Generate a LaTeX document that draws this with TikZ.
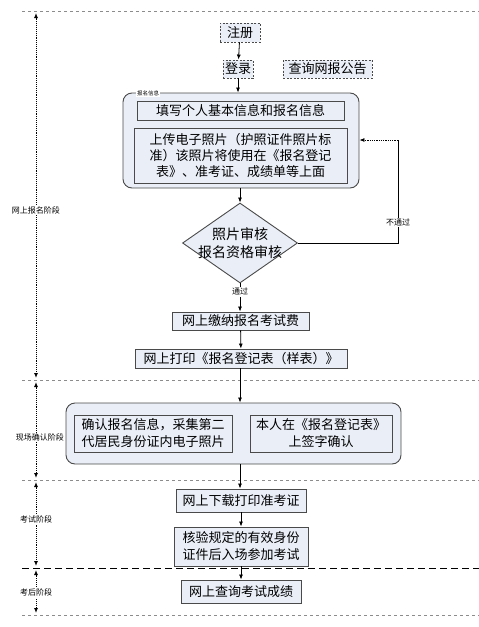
\documentclass[tikz,border=0pt]{standalone}
\usepackage{fontspec}
\setmainfont{Noto Sans CJK SC}
\usetikzlibrary{arrows.meta,shapes.geometric}
\definecolor{boxfill}{HTML}{E9EEF7}
\definecolor{boxline}{HTML}{4A4A4A}
\definecolor{sepline}{HTML}{8C8C8C}

\begin{document}
\begin{tikzpicture}[x=1pt,y=-1pt,
  box/.style={draw=boxline,fill=boxfill,line width=0.9pt,inner sep=0pt,
    align=center,font=\fontsize{13}{16}\selectfont},
  dbox/.style={box,dash pattern=on 2pt off 1.5pt},
  grp/.style={draw=boxline,fill=boxfill,line width=0.9pt,rounded corners=9pt,inner sep=0pt},
  chk/.style={diamond,draw=boxline,fill=boxfill,line width=0.9pt,inner sep=0pt,aspect=1.44},
  stage/.style={fill=white,inner sep=1pt,font=\fontsize{8}{9}\selectfont},
  tag/.style={fill=white,inner sep=1pt,font=\fontsize{8}{9}\selectfont},
  flow/.style={-{Latex[length=5pt,width=4pt]},line width=0.8pt,black},
  span/.style={{Latex[length=5pt,width=4pt]}-{Latex[length=5pt,width=4pt]},densely dotted,line width=0.9pt},
  sep/.style={sepline,dash pattern=on 3pt off 3pt,line width=0.8pt}]

\useasboundingbox (0,0) rectangle (479,627);

% Stage separators
\draw[sep] (22,11) -- (479,11);
\draw[sep] (22,380) -- (479,380);
\draw[sep] (22,480) -- (479,480);
\draw[black,dash pattern=on 7pt off 4pt,line width=0.9pt] (22,568) -- (479,568);
\draw[sep] (22,615) -- (479,615);

% Stage spans
\coordinate (s1t) at (36,13);
\coordinate (s1b) at (36,378);
\coordinate (s2t) at (36,382);
\coordinate (s2b) at (36,478);
\coordinate (s3t) at (36,482);
\coordinate (s3b) at (36,566);
\coordinate (s4t) at (36,570);
\coordinate (s4b) at (36,613);
\draw[span] (s1t) -- (s1b) node[stage,pos=0.54] {网上报名阶段};
\draw[span] (s2t) -- (s2b) node[stage,pos=0.58,xshift=4pt] {现场确认阶段};
\draw[span] (s3t) -- (s3b) node[stage,pos=0.45] {考试阶段};
\draw[span] (s4t) -- (s4b) node[stage,pos=0.53] {考后阶段};

% Online registration
\node[dbox,minimum width=40,minimum height=19] (reg) at (240,32.5) {注册};
\node[dbox,minimum width=30,minimum height=18] (login) at (238,69) {登录};
\node[dbox,minimum width=89,minimum height=18] (notice) at (327.5,69) {查询网报公告};

\node[grp,minimum width=236,minimum height=95] (info) at (241,140.5) {};
\node[tag,fill=white,font=\fontsize{5.5}{6}\selectfont] (infotag) at (148,93) {报名信息};
\node[box,minimum width=207,minimum height=19] (fill) at (240.5,110.5) {填写个人基本信息和报名信息};
\node[box,minimum width=213,minimum height=55] (photo) at (240.5,155.5)
  {上传电子照片（护照证件照片标\\准）该照片将使用在《报名登记\\表》、准考证、成绩单等上面};

\node[chk,minimum width=115,minimum height=80,
  label={[align=center,font=\fontsize{14}{18}\selectfont]center:照片审核\\报名资格审核}] (check) at (240,243) {};

\node[box,minimum width=137,minimum height=18] (pay) at (240.5,321) {网上缴纳报名考试费};
\node[box,minimum width=212,minimum height=19] (print) at (241,358.5) {网上打印《报名登记表（样表）》};

% On-site confirmation
\node[grp,minimum width=335,minimum height=61] (site) at (233.5,433.5) {};
\node[box,minimum width=158,minimum height=37,font=\fontsize{13}{17}\selectfont] (confirm) at (153,433.5)
  {确认报名信息，采集第二\\代居民身份证内电子照片};
\node[box,minimum width=142,minimum height=37,font=\fontsize{13}{17}\selectfont] (sign) at (321,433.5)
  {本人在《报名登记表》\\上签字确认};

% Exam
\node[box,minimum width=130,minimum height=23] (admit) at (241,500.5) {网上下载打印准考证};
\node[box,minimum width=134,minimum height=39,font=\fontsize{13}{17}\selectfont] (exam) at (241,546.5)
  {核验规定的有效身份\\证件后入场参加考试};

% After exam
\node[box,minimum width=120,minimum height=23] (score) at (241,591.5) {网上查询考试成绩};

% Flow
\draw[flow] (reg) -- (login);
\draw[flow] (login) -- (login |- info.north);
\draw[flow] (info.south -| check) -- (check);
\draw[flow] (check.south) -- (pay.north -| check) node[tag,pos=0.3] {通过};
\coordinate (fail) at (398,140);
\draw[line width=0.8pt] (check.east) -| (fail) node[tag,pos=0.6] {不通过};
\draw[flow,densely dotted] (fail) -- (info.east |- fail);
\draw[flow] (pay) -- (print);
\draw[flow] (print.south -| check) -- (site.north -| check);
\draw[flow] (site.south -| check) -- (admit.north -| check);
\draw[flow] (admit) -- (exam);
\draw[flow] (exam) -- (score);

\end{tikzpicture}
\end{document}
